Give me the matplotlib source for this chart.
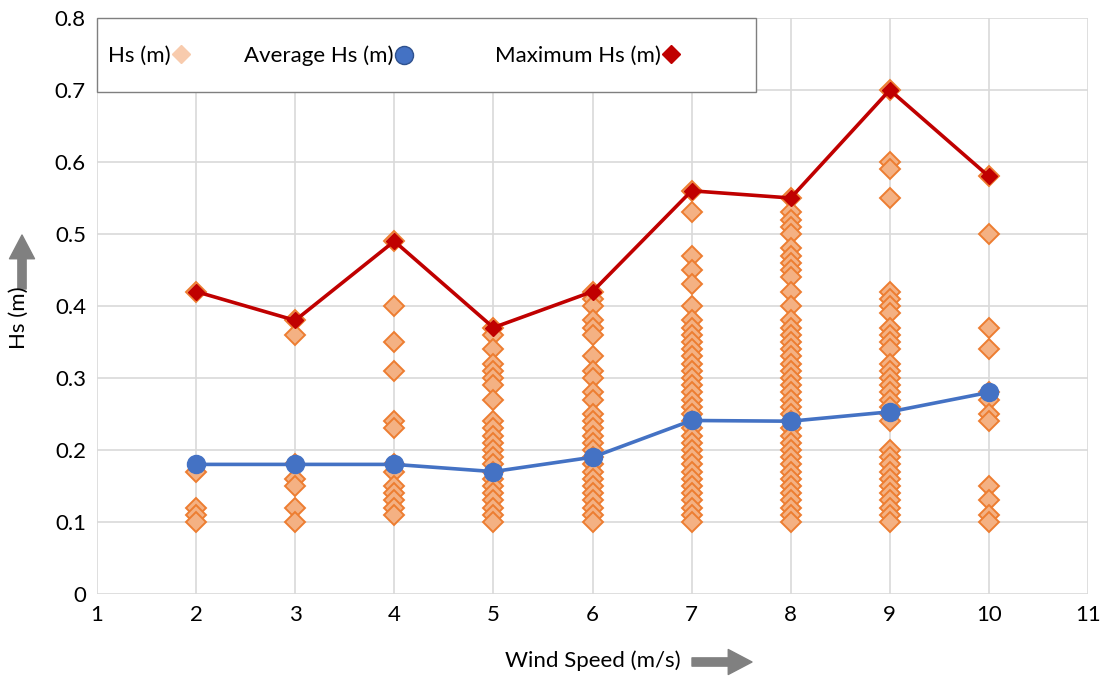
import matplotlib
matplotlib.use("Agg")
import matplotlib.pyplot as plt
from matplotlib.lines import Line2D
from matplotlib.patches import Rectangle

plt.rcParams['font.family'] = ['Lato', 'DejaVu Sans']

# ---- data ----
wind_speeds = [2, 3, 4, 5, 6, 7, 8, 9, 10]
hs_obs = {
    2: [0.42, 0.17, 0.12, 0.11, 0.10],
    3: [0.38, 0.36, 0.18, 0.16, 0.15, 0.12, 0.10],
    4: [0.49, 0.40, 0.35, 0.31, 0.24, 0.23, 0.18, 0.17, 0.15, 0.14, 0.13, 0.12, 0.11],
    5: [0.37, 0.36, 0.34, 0.32, 0.31, 0.30, 0.29, 0.27, 0.24, 0.23, 0.22, 0.21, 0.20,
        0.19, 0.18, 0.17, 0.16, 0.15, 0.14, 0.13, 0.12, 0.11, 0.10],
    6: [0.42, 0.41, 0.40, 0.38, 0.37, 0.36, 0.33, 0.31, 0.30, 0.28, 0.27, 0.25, 0.24,
        0.23, 0.22, 0.21, 0.20, 0.19, 0.18, 0.17, 0.16, 0.15, 0.14, 0.13, 0.12, 0.11, 0.10],
    7: [0.56, 0.53, 0.47, 0.45, 0.43, 0.40, 0.38, 0.37, 0.36, 0.35, 0.34, 0.33, 0.32,
        0.31, 0.30, 0.29, 0.28, 0.27, 0.26, 0.25, 0.24, 0.23, 0.22, 0.21, 0.20, 0.19,
        0.18, 0.17, 0.16, 0.15, 0.14, 0.13, 0.12, 0.11, 0.10],
    8: [0.55, 0.53, 0.52, 0.51, 0.50, 0.48, 0.47, 0.46, 0.45, 0.44, 0.42, 0.40, 0.38,
        0.37, 0.36, 0.35, 0.34, 0.33, 0.32, 0.31, 0.30, 0.29, 0.28, 0.27, 0.26, 0.25,
        0.24, 0.23, 0.22, 0.21, 0.20, 0.19, 0.18, 0.17, 0.16, 0.15, 0.14, 0.13, 0.12,
        0.11, 0.10],
    9: [0.70, 0.60, 0.59, 0.55, 0.42, 0.41, 0.40, 0.39, 0.37, 0.36, 0.35, 0.34, 0.32,
        0.31, 0.30, 0.29, 0.28, 0.27, 0.26, 0.25, 0.24, 0.20, 0.19, 0.18, 0.17, 0.16,
        0.15, 0.14, 0.13, 0.12, 0.11, 0.10],
    10: [0.58, 0.50, 0.37, 0.34, 0.28, 0.27, 0.25, 0.24, 0.15, 0.13, 0.11, 0.10],
}
avg_hs = [0.18, 0.18, 0.18, 0.17, 0.19, 0.241, 0.240, 0.253, 0.28]
max_hs = [0.42, 0.38, 0.49, 0.37, 0.42, 0.56, 0.55, 0.70, 0.58]
x_ticks = list(range(1, 12))
y_ticks = [0, 0.1, 0.2, 0.3, 0.4, 0.5, 0.6, 0.7, 0.8]
y_tick_labels = ['0', '0.1', '0.2', '0.3', '0.4', '0.5', '0.6', '0.7', '0.8']
legend_labels = ['Hs (m)', 'Average Hs (m)', 'Maximum Hs (m)']

FS = 16

# ---- figure ----
W, H = 1103, 677
AX_L, AX_R, AX_T, AX_B = 97, 1088, 18, 594
fig = plt.figure(figsize=(W / 100, H / 100), dpi=100)
ax = fig.add_axes([AX_L / W, 1 - AX_B / H, (AX_R - AX_L) / W, (AX_B - AX_T) / H])

sc_x, sc_y = [], []
for ws in wind_speeds:
    for v in hs_obs[ws]:
        sc_x.append(ws)
        sc_y.append(v)
ax.plot(sc_x, sc_y, linestyle='none', marker='D', markersize=10.5,
        markerfacecolor='#F4B183', markeredgecolor='#ED7D31', markeredgewidth=1.4, zorder=3)
ax.plot(wind_speeds, avg_hs, color='#4472C4', lw=2.6, marker='o', markersize=13,
        markerfacecolor='#4472C4', markeredgecolor='#4472C4', zorder=4)
ax.plot(wind_speeds, max_hs, color='#C00000', lw=2.6, marker='D', markersize=8.5,
        markerfacecolor='#C00000', markeredgecolor='#C00000', zorder=5)

ax.set_xlim(1, 11)
ax.set_ylim(0, 0.8)
ax.set_xticks(x_ticks)
ax.set_yticks(y_ticks)
ax.set_yticklabels(y_tick_labels)
ax.grid(True, color='#D9D9D9', lw=1.2)
ax.set_axisbelow(True)
for s in ax.spines.values():
    s.set_visible(False)
ax.tick_params(length=0, labelsize=FS, colors='black', pad=8)

# legend frame (box in axes fraction derived from pixel extents)
ax_w, ax_h = AX_R - AX_L, AX_B - AX_T
frame = Rectangle((0, 1 - (92 - AX_T) / ax_h), (756 - AX_L) / ax_w, (92 - AX_T) / ax_h,
                  transform=ax.transAxes, facecolor='white', edgecolor='#7F7F7F',
                  lw=1.0, zorder=6, clip_on=False)
ax.add_patch(frame)

handles = [
    Line2D([], [], linestyle='none', marker='D', markersize=9.5, markerfacecolor='#F8CBAD',
           markeredgecolor='#F8CBAD'),
    Line2D([], [], linestyle='none', marker='o', markersize=13, markerfacecolor='#4472C4',
           markeredgecolor='#2F528F'),
    Line2D([], [], linestyle='none', marker='D', markersize=9.5, markerfacecolor='#C00000',
           markeredgecolor='#C00000'),
]
legend_x_px = [108, 244, 495]
legends = []
for h, lab, xp in zip(handles, legend_labels, legend_x_px):
    lg = ax.legend([h], [lab], loc='center left',
                   bbox_to_anchor=((xp - AX_L) / ax_w, 1 - (56 - AX_T) / ax_h),
                   markerfirst=False, frameon=False, fontsize=FS,
                   handlelength=0.7, handletextpad=0.1,
                   borderaxespad=0, borderpad=0)
    lg.set_zorder(7)
    legends.append(lg)
for lg in legends[:-1]:
    ax.add_artist(lg)

# axis labels and arrows
fig.text(593 / W, 1 - 661 / H, 'Wind Speed (m/s)', ha='center', va='center', fontsize=FS)
fig.text(19 / W, 1 - 318 / H, 'Hs (m)', ha='center', va='center', fontsize=FS, rotation=90)
astyle = 'simple,head_length=0.95,head_width=1.0,tail_width=0.33'
ax.annotate('', xy=(752, H - 662), xytext=(692, H - 662), xycoords='figure pixels',
            textcoords='figure pixels',
            arrowprops=dict(arrowstyle=astyle, color='#808080', mutation_scale=18,
                            shrinkA=0, shrinkB=0))
ax.annotate('', xy=(22, H - 235), xytext=(22, H - 289), xycoords='figure pixels',
            textcoords='figure pixels',
            arrowprops=dict(arrowstyle=astyle, color='#808080', mutation_scale=18,
                            shrinkA=0, shrinkB=0))

fig.savefig('out.png', dpi=100)
